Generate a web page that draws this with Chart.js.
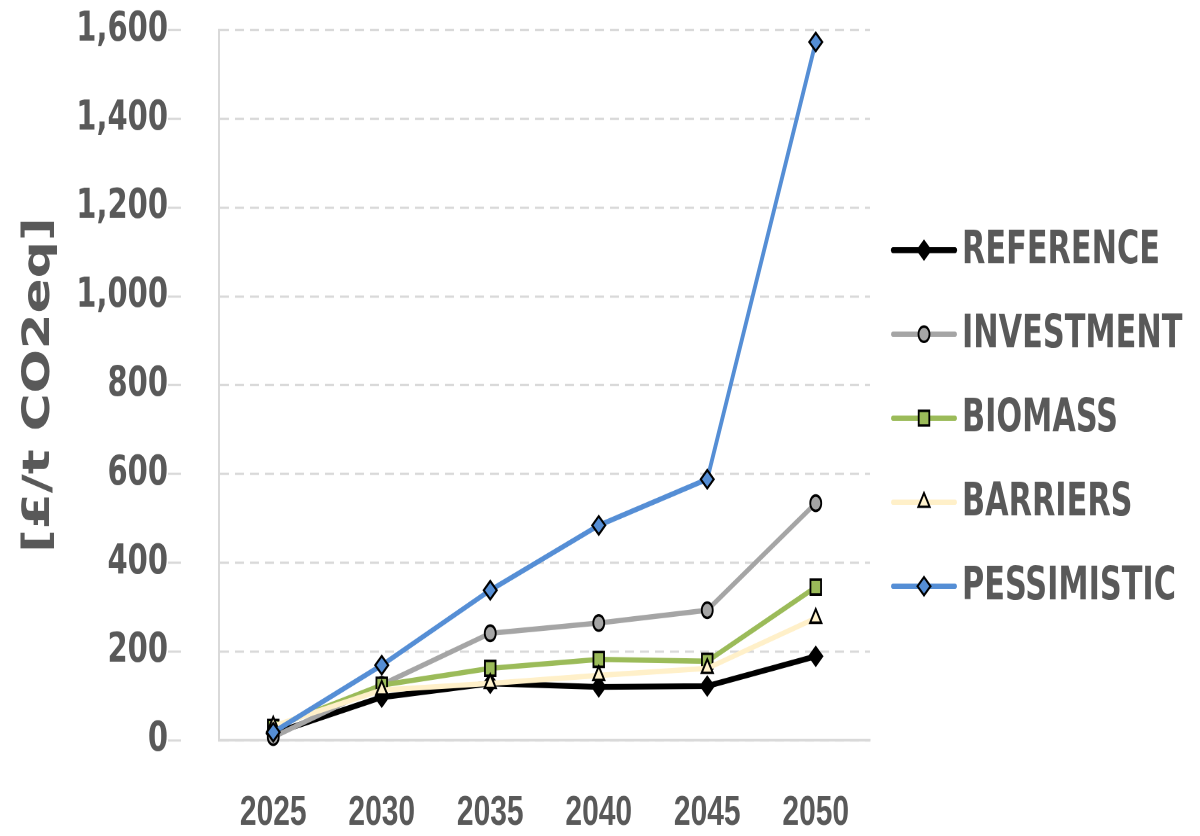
<!DOCTYPE html>
<html>
<head>
<meta charset="utf-8">
<script src="https://cdn.jsdelivr.net/npm/chart.js@4"></script>
<style>
  html, body { margin: 0; padding: 0; background: #ffffff; }
  #wrap { position: absolute; left: 0; top: 0; width: 1200px; height: 597px; transform: scaleY(1.40034); transform-origin: 0 0; }
  #c { display: block; width: 1200px; height: 597px; }
</style>
</head>
<body>
<div id="wrap"><canvas id="c" width="1200" height="597"></canvas></div>
<script>
// ---- data ----
const years = ['2025', '2030', '2035', '2040', '2045', '2050'];
const reference   = [15, 97, 128, 120, 122, 189];
const investment  = [7, 125, 241, 264, 293, 534];
const biomass     = [29, 124, 162, 182, 178, 345];
const barriers    = [32, 113, 128, 146, 162, 275];
const pessimistic = [18, 169, 338, 484, 588, 1573];
const seriesNames = ['REFERENCE', 'INVESTMENT', 'BIOMASS', 'BARRIERS', 'PESSIMISTIC'];
const yTicks = [0, 200, 400, 600, 800, 1000, 1200, 1400, 1600];
const yTitle = '[£/t CO2eq]';

const TEXT = '#595959';
const GRID = '#d9d9d9';

function ds(label, data, color, fill, style, radius, width, order) {
  return {
    label, data,
    borderColor: color, backgroundColor: fill,
    borderWidth: width,
    pointStyle: style, pointRadius: radius, pointHoverRadius: radius,
    pointBackgroundColor: fill, pointBorderColor: '#000000', pointBorderWidth: 1.8,
    tension: 0, order: order, clip: false
  };
}

const datasets = [
  ds(seriesNames[0], reference,   '#000000', '#000000', 'rectRot',  6.5, 4.2, 4),
  ds(seriesNames[1], investment,  '#a5a5a5', '#a5a5a5', 'circle',   5.5, 3.8, 3),
  ds(seriesNames[2], biomass,     '#9bbb59', '#9bbb59', 'rect',     7.5, 3.8, 2),
  ds(seriesNames[3], barriers,    '#fff0c9', '#fff2cc', 'triangle', 6.5, 3.8, 1),
  ds(seriesNames[4], pessimistic, '#558ed5', '#558ed5', 'rectRot',  6.5, 3.8, 0)
];

const LEG = { lineX0: 893, lineX1: 955, markX: 924, textX: 962, top: 178.6, step: 60, refWidth: 198 };
const LEG_FONT = 'bold 33px "DejaVu Sans Condensed", "DejaVu Sans", sans-serif';

const sideLegend = {
  id: 'sideLegend',
  afterDraw(chart) {
    const ctx = chart.ctx;
    ctx.save();
    ctx.font = LEG_FONT;
    const k = LEG.refWidth / ctx.measureText(chart.data.datasets[0].label).width;
    ctx.restore();
    chart.data.datasets.forEach((d, i) => {
      const y = LEG.top + i * LEG.step;
      ctx.save();
      ctx.strokeStyle = d.borderColor;
      ctx.lineWidth = d.borderWidth;
      ctx.lineCap = 'round';
      ctx.beginPath();
      ctx.moveTo(LEG.lineX0, y);
      ctx.lineTo(LEG.lineX1, y);
      ctx.stroke();
      ctx.fillStyle = d.pointBackgroundColor;
      ctx.strokeStyle = d.pointBorderColor;
      ctx.lineWidth = d.pointBorderWidth;
      Chart.helpers.drawPoint(ctx, {
        pointStyle: d.pointStyle, radius: d.pointRadius,
        borderWidth: d.pointBorderWidth, rotation: 0
      }, LEG.markX, y);
      ctx.translate(LEG.textX, y + 1);
      ctx.scale(k, 1);
      ctx.fillStyle = TEXT;
      ctx.font = LEG_FONT;
      ctx.textAlign = 'left';
      ctx.textBaseline = 'middle';
      ctx.fillText(d.label, 0, 0);
      ctx.restore();
    });
  }
};

new Chart(document.getElementById('c'), {
  type: 'line',
  data: { labels: years, datasets },
  plugins: [sideLegend],
  options: {
    responsive: false,
    maintainAspectRatio: false,
    devicePixelRatio: 2,
    animation: false,
    events: [],
    layout: { autoPadding: false, padding: { top: 21.4, right: 330, bottom: 0, left: 0 } },
    plugins: { legend: { display: false }, tooltip: { enabled: false } },
    scales: {
      x: {
        offset: true,
        grid: { display: false, drawTicks: false },
        border: { display: true, color: GRID, width: 2 },
        ticks: {
          color: TEXT, padding: 34,
          font: { family: '"Liberation Sans", Arial, sans-serif', size: 30, weight: 'bold' },
          maxRotation: 0, autoSkip: false
        },
        afterFit(scale) { scale.height = 68.4; }
      },
      y: {
        min: 0, max: 1600,
        afterBuildTicks(scale) { scale.ticks = yTicks.map(v => ({ value: v })); },
        grid: {
          color: GRID, lineWidth: 1.6, drawTicks: true, tickLength: 51,
          tickColor: GRID, tickWidth: 1.6, tickBorderDash: [13, 200]
        },
        border: { display: true, color: GRID, width: 2, dash: [9, 6] },
        ticks: {
          color: TEXT, padding: 0,
          font: { family: '"DejaVu Sans", sans-serif', size: 29, weight: 'bold' },
          callback: v => Number(v).toLocaleString('en-US')
        },
        title: {
          display: true, text: yTitle, color: TEXT,
          font: { family: '"DejaVu Sans", sans-serif', size: 37, weight: 'bold' },
          padding: { top: 17, bottom: 0 }
        },
        afterFit(scale) { scale.width = 219; }
      }
    }
  }
});
</script>
</body>
</html>
